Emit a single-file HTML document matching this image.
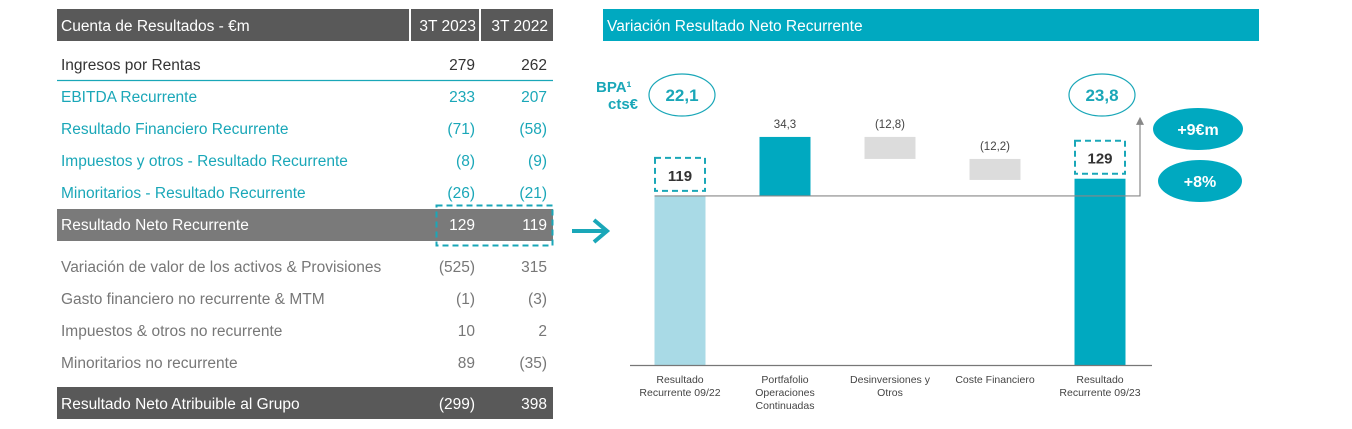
<!DOCTYPE html>
<html><head><meta charset="utf-8"><style>
body{margin:0;background:#fff;width:1352px;height:429px;overflow:hidden}
svg{display:block;font-family:"Liberation Sans",Arial,sans-serif}
</style></head><body>
<svg id="s" width="1352" height="429" viewBox="0 0 1352 429">
<g font-size="15.5">
 <rect x="57" y="9" width="352" height="32" fill="#595959"/>
 <rect x="411" y="9" width="68" height="32" fill="#595959"/>
 <rect x="481" y="9" width="72" height="32" fill="#595959"/>
 <text x="61" y="31" fill="#fff">Cuenta de Resultados - €m</text>
 <text x="476" y="31" fill="#fff" text-anchor="end">3T 2023</text>
 <text x="548" y="31" fill="#fff" text-anchor="end">3T 2022</text>
 <line x1="57" y1="80.5" x2="553" y2="80.5" stroke="#1aa7b8" stroke-width="1.2"/>
 <rect x="57" y="209" width="496" height="32" fill="#7a7a7a"/>
 <rect x="57" y="387" width="496" height="32" fill="#595959"/>
 <rect x="436.5" y="205.5" width="116" height="40" fill="none" stroke="#1aa7b8" stroke-width="2" stroke-dasharray="6,4"/>
 <g id="rows"></g>
</g>
<path d="M572 231 H604 M594 220 L607 231 L594 242" stroke="#1aa7b8" stroke-width="4" fill="none"/>
<g>
 <rect x="603" y="9" width="656" height="32" fill="#00a9c0"/>
 <text x="607" y="31" fill="#fff" font-size="15.5">Variación Resultado Neto Recurrente</text>
 <text x="596" y="92" fill="#1aa7b8" font-size="15" font-weight="bold">BPA¹</text>
 <text x="608" y="109" fill="#1aa7b8" font-size="15" font-weight="bold">cts€</text>
 <ellipse cx="682" cy="95" rx="33" ry="21" fill="#fff" stroke="#1aa7b8" stroke-width="1.2"/>
 <text x="682" y="101" fill="#1aa7b8" font-size="17" font-weight="bold" text-anchor="middle">22,1</text>
 <ellipse cx="1102" cy="95" rx="33" ry="21" fill="#fff" stroke="#1aa7b8" stroke-width="1.2"/>
 <text x="1102" y="101" fill="#1aa7b8" font-size="17" font-weight="bold" text-anchor="middle">23,8</text>
 <ellipse cx="1198" cy="129" rx="45" ry="21" fill="#00a9c0"/>
 <text x="1198" y="135" fill="#fff" font-size="16" font-weight="bold" text-anchor="middle">+9€m</text>
 <ellipse cx="1200" cy="181" rx="42" ry="21" fill="#00a9c0"/>
 <text x="1200" y="187" fill="#fff" font-size="16" font-weight="bold" text-anchor="middle">+8%</text>
 <g id="bars"></g>
 <line x1="630" y1="365.5" x2="1152" y2="365.5" stroke="#777" stroke-width="1.2"/>
</g>
</svg>
<script>
const NS="http://www.w3.org/2000/svg";
const rowLabels=["Ingresos por Rentas","EBITDA Recurrente","Resultado Financiero Recurrente","Impuestos y otros - Resultado Recurrente","Minoritarios - Resultado Recurrente","Resultado Neto Recurrente","Variación de valor de los activos & Provisiones","Gasto financiero no recurrente & MTM","Impuestos & otros no recurrente","Minoritarios no recurrente","Resultado Neto Atribuible al Grupo"];
const val2023=["279","233","(71)","(8)","(26)","129","(525)","(1)","10","89","(299)"];
const val2022=["262","207","(58)","(9)","(21)","119","315","(3)","2","(35)","398"];
const rowColors=["#333","#1aa7b8","#1aa7b8","#1aa7b8","#1aa7b8","#fff","#777","#777","#777","#777","#fff"];
const rowY=[70,102,134,166,198,230,272,304,336,368,409];
const rows=document.getElementById('rows');
function t(parent,x,y,s,attrs){const e=document.createElementNS(NS,'text');e.setAttribute('x',x);e.setAttribute('y',y);for(const k in attrs)e.setAttribute(k,attrs[k]);e.textContent=s;parent.appendChild(e);return e;}
rowLabels.forEach((l,i)=>{
 const a=t(rows,61,rowY[i],l,{fill:rowColors[i]});
 
 
 const b=t(rows,475,rowY[i],val2023[i],{fill:rowColors[i],'text-anchor':'end'});
 
 
 const c=t(rows,547,rowY[i],val2022[i],{fill:rowColors[i],'text-anchor':'end'});
 
 
});
// waterfall
const categories=[["Resultado","Recurrente 09/22"],["Portfafolio","Operaciones","Continuadas"],["Desinversiones y","Otros"],["Coste Financiero"],["Resultado","Recurrente 09/23"]];
const steps=[119,34.3,-12.8,-12.2,129];
const stepLabels=["119","34,3","(12,8)","(12,2)","129"];
const kinds=["total","up","down","down","total"];
const yMin=20.7,k=1.72,base=365;
const y=v=>base-(v-yMin)*k;
const xc=i=>680+i*105;
const bw=51;
const g=document.getElementById('bars');
let run=0;
steps.forEach((v,i)=>{
 let top,bot;
 if(kinds[i]==='total'){top=y(v);bot=base;run=v;}
 else{const a=run,b=run+v;top=y(Math.max(a,b));bot=y(Math.min(a,b));run=b;}
 const r=document.createElementNS(NS,'rect');
 r.setAttribute('x',xc(i)-bw/2);r.setAttribute('y',top);r.setAttribute('width',bw);r.setAttribute('height',bot-top);
 r.setAttribute('fill',i===0?'#a9dae6':kinds[i]==='down'?'#dcdcdc':'#00a9c0');
 
 
 g.appendChild(r);
 let lab;
 if(kinds[i]==='total'){
  const bx=document.createElementNS(NS,'rect');
  bx.setAttribute('x',xc(i)-25);bx.setAttribute('y',top-38);bx.setAttribute('width',50);bx.setAttribute('height',33);
  bx.setAttribute('fill','none');bx.setAttribute('stroke','#1aa7b8');bx.setAttribute('stroke-width','2');bx.setAttribute('stroke-dasharray','6,4');
  
  
  g.appendChild(bx);
  lab=t(g,xc(i),top-15,stepLabels[i],{'text-anchor':'middle','font-size':'15','font-weight':'bold',fill:'#333'});
 } else {
  lab=t(g,xc(i),top-9,stepLabels[i],{'text-anchor':'middle','font-size':'11.5',fill:'#444'});
 }
 
 
 categories[i].forEach((c,j)=>{
  const e=t(g,xc(i),383+j*13,c,{'text-anchor':'middle','font-size':'10.5',fill:'#444'});
  
  
 });
});
const ref=document.createElementNS(NS,'path');
const y0=y(steps[0]);
ref.setAttribute('d',`M${xc(0)-bw/2} ${y0} H1140 V${y(153.3)-18}`);
ref.setAttribute('stroke','#888');ref.setAttribute('fill','none');ref.setAttribute('stroke-width','1.2');


g.appendChild(ref);
const ah=document.createElementNS(NS,'path');
const ay=y(153.3)-20;
ah.setAttribute('d',`M1136 ${ay+8} L1140 ${ay} L1144 ${ay+8} Z`);
ah.setAttribute('fill','#888');


g.appendChild(ah);
</script>
</body></html>
